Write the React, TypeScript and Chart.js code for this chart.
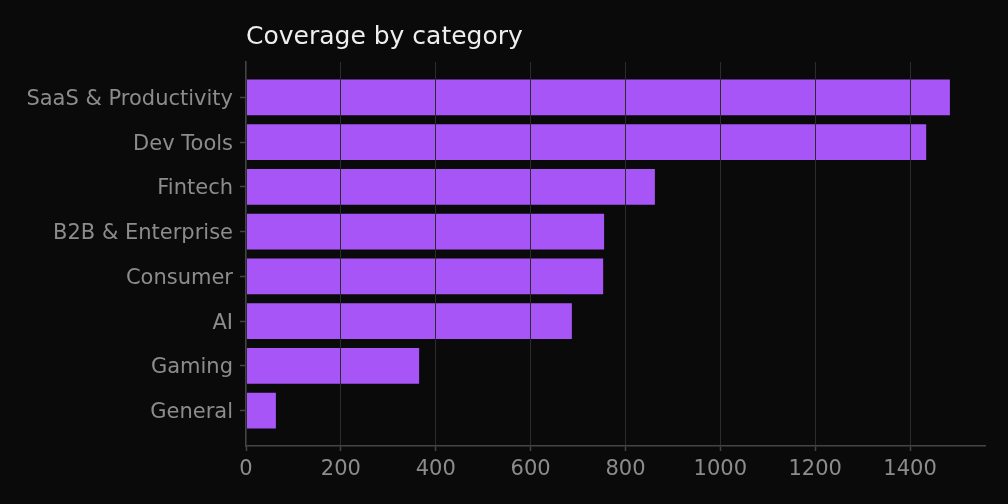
import React, { useEffect, useRef } from "react";
import { Chart, registerables } from "chart.js";

Chart.register(...registerables);

const categories = [
  "SaaS & Productivity",
  "Dev Tools",
  "Fintech",
  "B2B & Enterprise",
  "Consumer",
  "AI",
  "Gaming",
  "General",
];
const coverage = [1484, 1434, 862, 755, 753, 687, 365, 63];
const xTicks = [0, 200, 400, 600, 800, 1000, 1200, 1400];
const xMax = 1558;
const chartTitle = "Coverage by category";

const FONT = '"DejaVu Sans", sans-serif';
const BG = "#0a0a0a";

const titlePlugin = {
  id: "leftTitle",
  afterDraw(chart: any) {
    const ctx = chart.ctx;
    ctx.save();
    ctx.font = `25px ${FONT}`;
    ctx.fillStyle = "#eeeeee";
    ctx.textBaseline = "alphabetic";
    ctx.textAlign = "left";
    ctx.fillText(chartTitle, chart.chartArea.left, 44);
    ctx.restore();
  },
};

const bgPlugin = {
  id: "bg",
  beforeDraw(chart: any) {
    const ctx = chart.ctx;
    ctx.save();
    ctx.fillStyle = BG;
    ctx.fillRect(0, 0, chart.width, chart.height);
    ctx.restore();
  },
};

export default function App() {
  const ref = useRef<HTMLCanvasElement | null>(null);

  useEffect(() => {
    document.body.style.margin = "0";
    document.body.style.background = BG;
    const chart = new Chart(ref.current as HTMLCanvasElement, {
      type: "bar",
      data: {
        datasets: [
          {
            label: "Coverage",
            data: coverage.map((v, i) => ({ x: v, y: i })),
            backgroundColor: "#a855f7",
            borderWidth: 0,
            barPercentage: 0.8,
            categoryPercentage: 1.0,
          },
        ],
      },
      options: {
        indexAxis: "y",
        animation: false,
        responsive: true,
        maintainAspectRatio: false,
        layout: { padding: { top: 62, right: 23, bottom: 0, left: 0 } },
        plugins: {
          legend: { display: false },
          title: { display: false },
          tooltip: { enabled: false },
        },
        scales: {
          y: {
            type: "linear",
            reverse: true,
            offset: false,
            min: -0.79,
            max: 7.79,
            afterBuildTicks: (scale: any) => {
              scale.ticks = categories.map((_, i) => ({ value: i }));
            },
            afterFit: (scale: any) => {
              scale.width = 246;
            },
            ticks: {
              callback: (v: any) => categories[v as number],
              color: "#8c8c8c",
              font: { family: FONT, size: 21 },
              padding: 7,
              labelOffset: 2,
            },
            grid: {
              offset: false,
              drawOnChartArea: false,
              drawTicks: true,
              tickLength: 6,
              tickColor: "#444444",
              tickWidth: 1.5,
            },
            border: { display: true, color: "#444444", width: 1.5 },
          },
          x: {
            type: "linear",
            min: 0,
            max: xMax,
            afterBuildTicks: (scale: any) => {
              scale.ticks = xTicks.map((v) => ({ value: v }));
            },
            afterFit: (scale: any) => {
              scale.height = 58;
            },
            ticks: {
              callback: (v: any) => String(v),
              color: "#8c8c8c",
              font: { family: FONT, size: 21 },
              padding: 6,
              maxRotation: 0,
            },
            grid: {
              color: "#2c2c2c",
              lineWidth: 1,
              z: 1,
              drawTicks: true,
              tickLength: 5,
              tickColor: "#444444",
              tickWidth: 1.5,
            },
            border: { display: true, color: "#444444", width: 1.5, z: 2 },
          },
        },
      },
      plugins: [bgPlugin, titlePlugin],
    } as any);
    return () => chart.destroy();
  }, []);

  return (
    <div
      style={{
        position: "fixed",
        left: 0,
        top: 0,
        width: 1008,
        height: 504,
        background: BG,
      }}
    >
      <canvas ref={ref} />
    </div>
  );
}
